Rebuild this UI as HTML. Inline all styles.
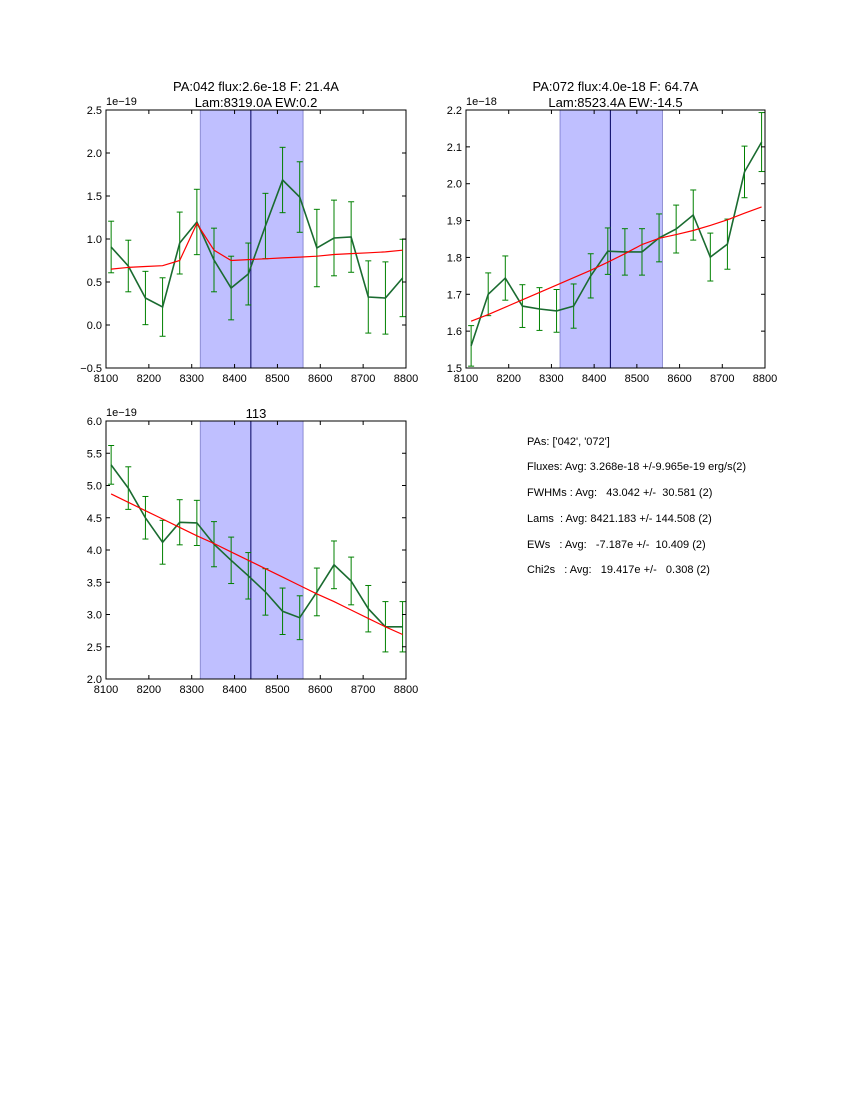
<!DOCTYPE html>
<html><head><meta charset="utf-8"><style>
body{margin:0;background:#fff;}
svg text{font-family:"Liberation Sans","DejaVu Sans",sans-serif;white-space:pre;}
</style></head><body>
<svg id="fig" width="850" height="1100" xmlns="http://www.w3.org/2000/svg">
<rect width="850" height="1100" fill="#fff"/>
<g font-size="11" fill="#000" xml:space="preserve">
<text x="527" y="445">PAs: ['042', '072']</text>
<text x="527" y="470">Fluxes: Avg: 3.268e-18 +/-9.965e-19 erg/s(2)</text>
<text x="527" y="496">FWHMs : Avg:   43.042 +/-  30.581 (2)</text>
<text x="527" y="522">Lams  : Avg: 8421.183 +/- 144.508 (2)</text>
<text x="527" y="548">EWs   : Avg:   -7.187e +/-  10.409 (2)</text>
<text x="527" y="573">Chi2s   : Avg:   19.417e +/-   0.308 (2)</text>
</g>
</svg>
<script>
const wave = [8112,8152,8192,8232,8272,8312,8352,8392,8432,8472,8512,8552,8592,8632,8672,8712,8752,8792];
const p1Flux = [0.907,0.686,0.314,0.209,0.953,1.198,0.756,0.43,0.593,1.151,1.686,1.488,0.895,1.012,1.023,0.326,0.314,0.547];
const p1Err = [0.30,0.30,0.31,0.34,0.36,0.38,0.37,0.37,0.36,0.38,0.38,0.41,0.45,0.44,0.41,0.42,0.42,0.45];
const p1Model = [0.65,0.67,0.68,0.69,0.75,1.18,0.87,0.75,0.76,0.77,0.78,0.79,0.80,0.82,0.83,0.84,0.85,0.87];
const p2Flux = [1.56,1.70,1.744,1.668,1.66,1.655,1.668,1.75,1.817,1.815,1.815,1.853,1.877,1.915,1.801,1.836,2.032,2.113];
const p2Err = [0.055,0.058,0.06,0.058,0.058,0.058,0.06,0.06,0.063,0.063,0.063,0.065,0.065,0.068,0.065,0.068,0.07,0.08];
const p2Model = [1.627,1.645,1.665,1.685,1.705,1.725,1.745,1.765,1.787,1.81,1.835,1.852,1.862,1.873,1.887,1.902,1.92,1.937];
const p3Flux = [5.32,4.96,4.50,4.12,4.43,4.42,4.09,3.84,3.60,3.35,3.05,2.95,3.35,3.77,3.52,3.09,2.81,2.81];
const p3Err = [0.30,0.33,0.33,0.34,0.35,0.35,0.35,0.36,0.36,0.36,0.36,0.34,0.37,0.37,0.37,0.36,0.39,0.39];
const p3Model = [4.87,4.74,4.61,4.48,4.35,4.22,4.10,3.97,3.84,3.71,3.58,3.45,3.32,3.20,3.07,2.94,2.81,2.69];
const xTicks = [8100,8200,8300,8400,8500,8600,8700,8800];
const p1Ticks = [-0.5,0.0,0.5,1.0,1.5,2.0,2.5];
const p2Ticks = [1.5,1.6,1.7,1.8,1.9,2.0,2.1,2.2];
const p3Ticks = [2.0,2.5,3.0,3.5,4.0,4.5,5.0,5.5,6.0];
const band = [8320,8560];
const centerLine = 8438;

const NS='http://www.w3.org/2000/svg';
const fig=document.getElementById('fig');
function mk(tag,attrs,parent){const e=document.createElementNS(NS,tag);for(const k in attrs)e.setAttribute(k,attrs[k]);(parent||fig).appendChild(e);return e;}

function panel(id,L,T,W,H,ymin,ymax,yTicks,flux,err,model,title,exp){
  const g=mk('g',{});
  
  
  const sx=v=>L+(v-8100)/700*W;
  const sy=v=>T+H-(v-ymin)/(ymax-ymin)*H;
  const sh=mk('rect',{x:sx(band[0]),y:T,width:sx(band[1])-sx(band[0]),height:H,fill:'rgba(0,0,255,0.25)',stroke:'rgba(0,0,128,0.35)','stroke-width':1},g);
  
  
  const vl=mk('line',{x1:sx(centerLine),x2:sx(centerLine),y1:T,y2:T+H,stroke:'#000060','stroke-width':1},g);
  
  
  const eb=mk('g',{stroke:'#008000','stroke-width':1},g);
  
  
  wave.forEach((w,i)=>{const x=sx(w),a=sy(flux[i]+err[i]),b=sy(flux[i]-err[i]);
    mk('line',{x1:x,x2:x,y1:a,y2:b},eb);mk('line',{x1:x-3,x2:x+3,y1:a,y2:a},eb);mk('line',{x1:x-3,x2:x+3,y1:b,y2:b},eb);});
  const cp=mk('clipPath',{id:id+'c'},g);mk('rect',{x:L,y:T,width:W,height:H},cp);
  const d=wave.map((w,i)=>(i?'L':'M')+sx(w).toFixed(1)+','+sy(flux[i]).toFixed(1)).join('');
  const ln=mk('path',{d:d,fill:'none',stroke:'#1a6b30','stroke-width':1.6,'clip-path':'url(#'+id+'c)'},g);
  
  
  const dm=wave.map((w,i)=>(i?'L':'M')+sx(w).toFixed(1)+','+sy(model[i]).toFixed(1)).join('');
  const md=mk('path',{d:dm,fill:'none',stroke:'#ff0000','stroke-width':1.2},g);
  
  
  mk('rect',{x:L,y:T,width:W,height:H,fill:'none',stroke:'#000','stroke-width':1},g);
  const xa=mk('g',{'font-size':11,'text-anchor':'middle'},g);
  
  
  xTicks.forEach(t=>{const x=sx(t);mk('line',{x1:x,x2:x,y1:T+H,y2:T+H-4,stroke:'#000'},xa);mk('line',{x1:x,x2:x,y1:T,y2:T+4,stroke:'#000'},xa);
    const tx=mk('text',{x:x,y:T+H+14},xa);tx.textContent=t;});
  const ya=mk('g',{'font-size':11,'text-anchor':'end'},g);
  
  
  yTicks.forEach(t=>{const y=sy(t);mk('line',{x1:L,x2:L+4,y1:y,y2:y,stroke:'#000'},ya);mk('line',{x1:L+W,x2:L+W-4,y1:y,y2:y,stroke:'#000'},ya);
    const tx=mk('text',{x:L-4,y:y+4},ya);tx.textContent=(t<0?'\u2212'+Math.abs(t).toFixed(1):t.toFixed(1));});
  const ex=mk('text',{x:L,y:T-5,'font-size':11},g);ex.textContent=exp;
  
  
  const tt=mk('g',{'font-size':13,'text-anchor':'middle'},g);
  
  
  title.forEach((s,i)=>{const t=mk('text',{x:L+W/2,y:T-(title.length-i)*16+13},tt);t.textContent=s;});
}
panel('panel-pa042',106,110,300,258,-0.5,2.5,p1Ticks,p1Flux,p1Err,p1Model,['PA:042 flux:2.6e-18 F: 21.4A','Lam:8319.0A EW:0.2'],'1e\u221219');
panel('panel-pa072',466,110,299,258,1.5,2.2,p2Ticks,p2Flux,p2Err,p2Model,['PA:072 flux:4.0e-18 F: 64.7A','Lam:8523.4A EW:-14.5'],'1e\u221218');
panel('panel-113',106,421,300,258,2.0,6.0,p3Ticks,p3Flux,p3Err,p3Model,['113'],'1e\u221219');
</script>
</body></html>
